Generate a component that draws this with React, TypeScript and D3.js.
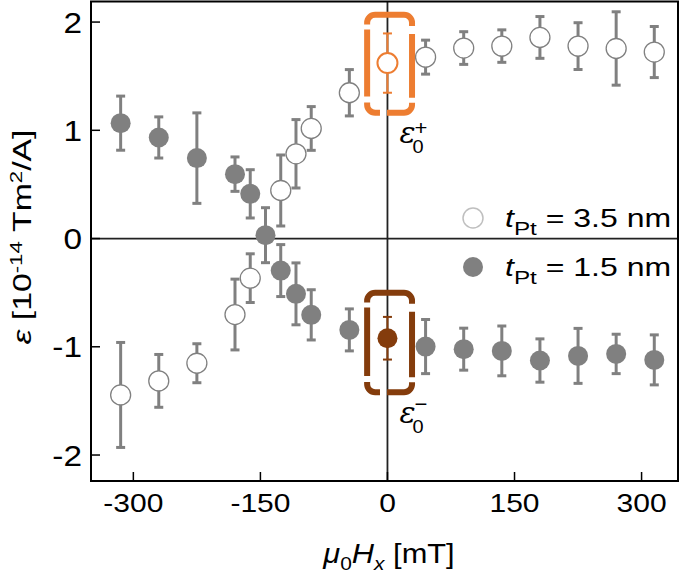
import React from 'react';
import * as d3 from 'd3';

// t_Pt = 3.5 nm (open circles)
const fieldThick = [-315, -270, -225, -180, -162, -126, -108, -90, -45, 0, 45, 90, 135, 180, 225, 270, 315];
const epsThick = [-1.445, -1.315, -1.152, -0.702, -0.366, 0.444, 0.783, 1.017, 1.347, 1.621, 1.676, 1.76, 1.778, 1.858, 1.778, 1.756, 1.723];
const errThick = [0.485, 0.244, 0.18, 0.327, 0.225, 0.328, 0.316, 0.202, 0.214, 0.274, 0.157, 0.151, 0.15, 0.193, 0.216, 0.339, 0.236];

// t_Pt = 1.5 nm (filled circles)
const fieldThin = [-315, -270, -225, -180, -162, -144, -126, -108, -90, -45, 0, 45, 90, 135, 180, 225, 270, 315];
const epsThin = [1.066, 0.934, 0.743, 0.595, 0.413, 0.031, -0.296, -0.511, -0.705, -0.844, -0.921, -0.998, -1.022, -1.038, -1.127, -1.084, -1.066, -1.121];
const errThin = [0.25, 0.19, 0.418, 0.159, 0.223, 0.254, 0.24, 0.286, 0.232, 0.194, 0.197, 0.25, 0.194, 0.23, 0.2, 0.254, 0.182, 0.231];

const xTicks = [-300, -150, 0, 150, 300];
const yTicks = [-2, -1, 0, 1, 2];
const legendLabels = ['3.5 nm', '1.5 nm'];

// highlight boxes around the zero-field points (data coords)
const boxPlus = { x0: -24, x1: 29, y0: 2.067, y1: 1.162 };
const boxMinus = { x0: -24, x1: 29, y0: -0.5, y1: -1.42 };

const GRAY = '#808080';
const ORANGE = '#ED7D31';
const BROWN = '#843C0C';
const SANS = '"Liberation Sans", Arial, sans-serif';
const SERIF = '"DejaVu Serif", "Liberation Serif", serif';

function Txt(props: any) {
  const { x, y, size, anchor = 'start', rot = 0, sx = 1.2, family = SANS, style, weight, fill = '#000', children } = props;
  return (
    <text
      transform={`translate(${x},${y}) rotate(${rot}) scale(${sx},1)`}
      fontSize={size}
      textAnchor={anchor}
      fontFamily={family}
      fontStyle={style}
      fontWeight={weight}
      fill={fill}
    >
      {children}
    </text>
  );
}

function dashedBox(px0: number, py0: number, px1: number, py1: number, color: string, key: string) {
  const r = 8;
  const W = px1 - px0;
  const H = py1 - py0;
  const cx = (px0 + px1) / 2;
  const q = (Math.PI * r) / 2;
  const d = [
    `M${cx},${py0}`,
    `H${px1 - r}`,
    `A${r},${r} 0 0 1 ${px1},${py0 + r}`,
    `V${py1 - r}`,
    `A${r},${r} 0 0 1 ${px1 - r},${py1}`,
    `H${px0 + r}`,
    `A${r},${r} 0 0 1 ${px0},${py1 - r}`,
    `V${py0 + r}`,
    `A${r},${r} 0 0 1 ${px0 + r},${py0}`,
    `Z`,
  ].join(' ');
  const a1 = W / 2 - r;
  const sR = a1 + q; // start of right side (y0 + r)
  const sB = sR + (H - 2 * r) + q; // start of bottom (x1 - r)
  const sL = sB + (W - 2 * r) + q; // start of left side (y1 - r)
  const total = sL + (H - 2 * r) + q + a1;
  const gaps: [number, number][] = [
    [sR + (11 - r), sR + (19 - r)],
    [sR + (H - 15 - r), sR + (H - 10 - r)],
    [sB + (px1 - r - (px0 + 20)), sB + (px1 - r - (px0 + 13))],
    [sL + 2, sL + 8],
    [sL + (H - 23), sL + (H - 18)],
  ];
  const arr: number[] = [];
  let pos = 0;
  gaps.forEach(([g0, g1]) => {
    arr.push(g0 - pos, g1 - g0);
    pos = g1;
  });
  arr.push(total - pos, 0);
  return (
    <path key={key} d={d} fill="none" stroke={color} strokeWidth={6} strokeDasharray={arr.join(' ')} />
  );
}

export default function App() {
  const x = d3.scaleLinear().domain([-350, 343]).range([91, 678]);
  const y = d3.scaleLinear().domain([-2.24, 2.19]).range([481, 1.5]);
  const [L, R] = x.range();
  const [B, T] = y.range();

  const thick = fieldThick.map((f, i) => ({ f, v: epsThick[i], e: errThick[i] }));
  const thin = fieldThin.map((f, i) => ({ f, v: epsThin[i], e: errThin[i] }));

  const errBar = (p: any, color: string, w: number, key: string) => {
    const cxp = x(p.f);
    const y1 = y(p.v + p.e);
    const y2 = y(p.v - p.e);
    const hw = 4.5;
    return (
      <g key={key} stroke={color} strokeWidth={w}>
        <line x1={cxp} x2={cxp} y1={y1} y2={y2} />
        <line x1={cxp - hw} x2={cxp + hw} y1={y1} y2={y1} />
        <line x1={cxp - hw} x2={cxp + hw} y1={y2} y2={y2} />
      </g>
    );
  };

  return (
    <svg width={685} height={578} style={{ position: 'absolute', left: 0, top: 0, background: '#fff' }}>
      <rect x={0} y={0} width={685} height={578} fill="#fff" />
      {/* zero lines */}
      <line x1={x(0)} x2={x(0)} y1={T} y2={B} stroke="#222" strokeWidth={1.8} />
      <line x1={L} x2={R} y1={y(0)} y2={y(0)} stroke="#222" strokeWidth={1.8} />

      {/* boxes */}
      {dashedBox(x(boxPlus.x0), y(boxPlus.y0), x(boxPlus.x1), y(boxPlus.y1), ORANGE, 'bp')}
      {dashedBox(x(boxMinus.x0), y(boxMinus.y0), x(boxMinus.x1), y(boxMinus.y1), BROWN, 'bm')}

      {/* error bars */}
      {thin.map((p, i) => (p.f === 0 ? errBar(p, BROWN, 2, 'et' + i) : errBar(p, GRAY, 3, 'et' + i)))}
      {thick.map((p, i) => (p.f === 0 ? errBar(p, ORANGE, 2, 'ek' + i) : errBar(p, GRAY, 3, 'ek' + i)))}

      {/* points */}
      {thin.map((p, i) => (
        <circle key={'pt' + i} cx={x(p.f)} cy={y(p.v)} r={10} fill={p.f === 0 ? BROWN : GRAY} />
      ))}
      {thick.map((p, i) => (
        <circle
          key={'pk' + i}
          cx={x(p.f)}
          cy={y(p.v)}
          r={10}
          fill="#fff"
          stroke={p.f === 0 ? ORANGE : GRAY}
          strokeWidth={p.f === 0 ? 2 : 1.3}
        />
      ))}

      {/* frame */}
      <rect x={L} y={T} width={R - L} height={B - T} fill="none" stroke="#000" strokeWidth={2} />

      {/* ticks */}
      {xTicks.map((t) => (
        <line key={'xt' + t} x1={x(t)} x2={x(t)} y1={B} y2={B - 9} stroke="#000" strokeWidth={1.5} />
      ))}
      {yTicks.map((t) => (
        <line key={'yt' + t} x1={L} x2={L + 9} y1={y(t)} y2={y(t)} stroke="#000" strokeWidth={1.5} />
      ))}

      {/* tick labels */}
      {xTicks.map((t) => (
        <Txt key={'xl' + t} x={x(t)} y={512} size={25} anchor="middle" sx={1.2}>
          {String(t)}
        </Txt>
      ))}
      {yTicks.map((t) => (
        <Txt key={'yl' + t} x={82} y={y(t) + 10.5} size={29} anchor="end" sx={1.15}>
          {String(t)}
        </Txt>
      ))}

      {/* axis titles */}
      <Txt x={389} y={563} size={28} anchor="middle" sx={1.1}>
        <tspan fontStyle="italic">μ</tspan>
        <tspan dy={7} fontSize={19}>0</tspan>
        <tspan dy={-7} fontStyle="italic">H</tspan>
        <tspan dy={7} fontSize={19} fontStyle="italic">x</tspan>
        <tspan dy={-7}> [mT]</tspan>
      </Txt>
      <Txt x={31} y={237} size={26} anchor="middle" rot={-90} sx={1.3}>
        <tspan fontStyle="italic">ε</tspan>
        <tspan> [10</tspan>
        <tspan dy={-9} fontSize={17}>-14</tspan>
        <tspan dy={9}> Tm</tspan>
        <tspan dy={-9} fontSize={17}>2</tspan>
        <tspan dy={9}>/A]</tspan>
      </Txt>

      {/* epsilon annotations */}
      <Txt x={x(0) + 12} y={y(0.882)} size={30} family={SERIF} style="italic" sx={1.0}>ε</Txt>
      <Txt x={x(0) + 25} y={y(0.79)} size={19} sx={1.05}>0</Txt>
      <Txt x={x(0) + 27} y={y(0.955)} size={21} sx={1.05}>+</Txt>
      <Txt x={x(0) + 12} y={y(-1.705)} size={30} family={SERIF} style="italic" sx={1.0}>ε</Txt>
      <Txt x={x(0) + 25} y={y(-1.797)} size={19} sx={1.05}>0</Txt>
      <Txt x={x(0) + 27} y={y(-1.595)} size={21} sx={1.05}>−</Txt>

      {/* legend */}
      <circle cx={473} cy={218} r={10} fill="#fff" stroke="#bfbfbf" strokeWidth={1.5} />
      <circle cx={473} cy={267} r={10} fill={GRAY} />
      {legendLabels.map((lab, i) => (
        <Txt key={'lg' + i} x={505} y={227 + i * 48.5} size={25} sx={1.28}>
          <tspan fontStyle="italic">t</tspan>
          <tspan dy={8} fontSize={19}>Pt</tspan>
          <tspan dy={-8}>{' = ' + lab}</tspan>
        </Txt>
      ))}
    </svg>
  );
}
